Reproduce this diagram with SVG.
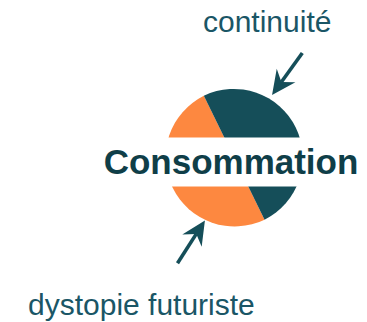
<svg xmlns="http://www.w3.org/2000/svg" width="367" height="322" viewBox="0 0 367 322">
  <style>
    .label { font-family: "Liberation Sans", Arial, sans-serif; font-size: 30px; fill: #1a5666; }
    .title { font-family: "Liberation Sans", Arial, sans-serif; font-size: 35px; font-weight: bold; fill: #0f3e48; }
    .dark { fill: #154e59; }
    .orange { fill: #fd8840; }
    .arrow { stroke: #154e59; stroke-width: 3.6; fill: none; marker-end: url(#head); }
  </style>
  <defs>
    <marker id="head" markerUnits="userSpaceOnUse" markerWidth="30" markerHeight="30" viewBox="-10 -14 30 28" refX="0" refY="0" orient="auto">
      <path d="M16,0 L-8,-11.5 L0,0 L-8,11.5 Z" fill="#154e59"/>
    </marker>
  </defs>
  <rect width="367" height="322" fill="#ffffff"/>
  <g id="consommation">
    <path class="orange" d="M203.84,95.74 A69,69 0 0 0 264.56,219.66 Z"/>
    <path class="dark" d="M203.84,95.74 A69,69 0 0 1 264.56,219.66 Z"/>
    <rect x="150" y="137.5" width="170" height="49" fill="#ffffff"/>
    <text class="title" x="231" y="174" text-anchor="middle">Consommation</text>
  </g>
  <g id="continuite">
    <text class="label" x="203" y="32.3">continuité</text>
  </g>
  <g id="dystopie">
    <text class="label" x="28" y="314.5">dystopie futuriste</text>
  </g>
  <g id="connectors">
    <line class="arrow" x1="302.3" y1="53" x2="281.4" y2="82"/>
    <line class="arrow" x1="177.5" y1="263.3" x2="196.3" y2="233.9"/>
  </g>
</svg>
